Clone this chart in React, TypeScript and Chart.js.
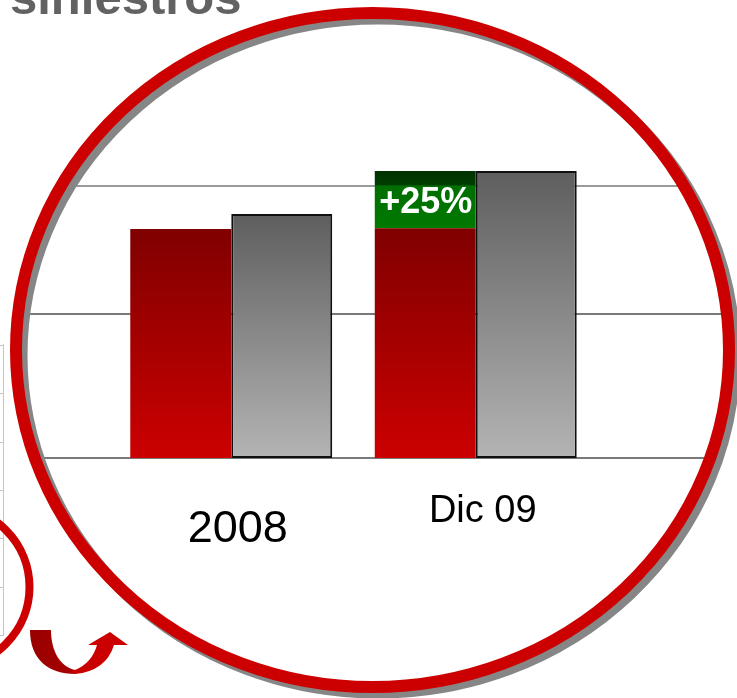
import React, { useEffect, useRef } from 'react';
import { Chart, registerables } from 'chart.js';

Chart.register(...registerables);

const categories = ['2008', 'Dic 09'];
const redValues = [1590, 1595];
const increaseValues = [0, 398];
const grayValues = [1694, 1993];
const gridValues = [0, 1000, 1890];
const increaseLabel = '+25%';
const titleText = 'siniestros';

const W = 737;
const H = 698;
const FONT = '"Liberation Sans", Arial, Helvetica, sans-serif';

// ring geometry
const CX = 372.5;
const CY = 350;
const RX = 356.5;
const RY = 337;

function barGradient(c: any, kind: 'red' | 'green' | 'gray') {
  const chart = c.chart;
  const fallback = kind === 'red' ? '#a00000' : kind === 'green' ? '#007000' : '#888888';
  if (!chart.chartArea || !chart.scales || !chart.scales.y) return fallback;
  const ys = chart.scales.y;
  const i = c.dataIndex;
  if (i === undefined) return fallback;
  let lo = 0;
  let hi = 0;
  if (kind === 'red') { lo = 0; hi = redValues[i]; }
  if (kind === 'green') { lo = redValues[i]; hi = redValues[i] + increaseValues[i]; }
  if (kind === 'gray') { lo = 0; hi = grayValues[i]; }
  const top = ys.getPixelForValue(hi);
  const bottom = ys.getPixelForValue(lo);
  if (!isFinite(top) || !isFinite(bottom) || bottom - top < 1) return fallback;
  const g = chart.ctx.createLinearGradient(0, top, 0, bottom);
  if (kind === 'red') {
    g.addColorStop(0, '#800000');
    g.addColorStop(1, '#cc0000');
  } else if (kind === 'green') {
    g.addColorStop(0, '#003300');
    g.addColorStop(0.24, '#003d00');
    g.addColorStop(0.26, '#006e00');
    g.addColorStop(1, '#007a00');
  } else {
    g.addColorStop(0, '#5e5e5e');
    g.addColorStop(1, '#b4b4b4');
  }
  return g;
}

const decorPlugin = {
  id: 'decor',
  beforeDatasetsDraw(chart: any) {
    const ctx = chart.ctx;
    const ys = chart.scales.y;
    ctx.save();
    // background table edge at the far left
    ctx.strokeStyle = '#c4c4c4';
    ctx.lineWidth = 1;
    ctx.beginPath();
    ctx.moveTo(3.5, 344);
    ctx.lineTo(3.5, 636);
    [345, 393, 442, 490, 538, 587, 635].forEach((y) => {
      ctx.moveTo(0, y + 0.5);
      ctx.lineTo(3.5, y + 0.5);
    });
    ctx.stroke();

    // grid lines clipped by the ring
    ctx.beginPath();
    ctx.ellipse(CX, CY, RX, RY, 0, 0, Math.PI * 2);
    ctx.clip();
    gridValues.forEach((v, k) => {
      const y = Math.round(ys.getPixelForValue(v));
      ctx.strokeStyle = k === gridValues.length - 1 ? '#9a9a9a' : '#7a7a7a';
      ctx.lineWidth = 2;
      ctx.beginPath();
      ctx.moveTo(0, y);
      ctx.lineTo(W, y);
      ctx.stroke();
    });
    ctx.restore();
  },
  afterDatasetsDraw(chart: any) {
    const ctx = chart.ctx;
    const xs = chart.scales.x;
    const ys = chart.scales.y;
    ctx.save();

    // increase label
    const gi = 1;
    const gTop = ys.getPixelForValue(redValues[gi] + increaseValues[gi]);
    const gBot = ys.getPixelForValue(redValues[gi]);
    const redMeta = chart.getDatasetMeta(0);
    const gx = redMeta.data[gi] ? redMeta.data[gi].x : xs.getPixelForValue(gi);
    ctx.fillStyle = '#ffffff';
    ctx.font = `bold 36px ${FONT}`;
    ctx.textAlign = 'center';
    ctx.textBaseline = 'alphabetic';
    ctx.fillText(increaseLabel, gx + 0.5, (gTop + gBot) / 2 + 13.5);

    // category labels
    ctx.fillStyle = '#000000';
    ctx.font = `45px ${FONT}`;
    ctx.fillText(categories[0], xs.getPixelForValue(0) + 6.5, 542);
    ctx.font = `38px ${FONT}`;
    ctx.fillText(categories[1], xs.getPixelForValue(1) + 7, 522);

    // ring with shadow
    ctx.lineWidth = 12;
    ctx.strokeStyle = '#868686';
    ctx.beginPath();
    ctx.ellipse(CX + 5.5, CY + 5.5, RX, RY, 0, 0, Math.PI * 2);
    ctx.stroke();
    ctx.strokeStyle = '#cc0000';
    ctx.beginPath();
    ctx.ellipse(CX, CY, RX, RY, 0, 0, Math.PI * 2);
    ctx.stroke();

    // small ring at left
    ctx.lineWidth = 8;
    ctx.strokeStyle = '#cc0000';
    ctx.beginPath();
    ctx.arc(-51, 587, 80.5, 0, Math.PI * 2);
    ctx.stroke();

    // curved arrow
    const ag = ctx.createLinearGradient(30, 0, 110, 0);
    ag.addColorStop(0, '#980000');
    ag.addColorStop(0.5, '#a80000');
    ag.addColorStop(0.56, '#c80000');
    ag.addColorStop(1, '#cc0000');
    ctx.fillStyle = ag;
    ctx.beginPath();
    ctx.moveTo(30, 630);
    ctx.lineTo(51, 630);
    ctx.bezierCurveTo(51, 652, 61, 667, 75, 670);
    ctx.quadraticCurveTo(92, 663, 97, 645);
    ctx.lineTo(88, 645);
    ctx.lineTo(110, 632);
    ctx.lineTo(128, 645);
    ctx.lineTo(114, 645);
    ctx.quadraticCurveTo(106, 671, 75, 674);
    ctx.bezierCurveTo(49, 674, 30, 660, 30, 630);
    ctx.closePath();
    ctx.fill();

    // title (cropped at the top)
    ctx.fillStyle = '#626262';
    ctx.font = `bold 49px ${FONT}`;
    ctx.textAlign = 'left';
    ctx.textBaseline = 'alphabetic';
    ctx.fillText(titleText, 10, 14);

    ctx.restore();
  },
};

export default function App() {
  const ref = useRef<HTMLCanvasElement | null>(null);
  useEffect(() => {
    if (!ref.current) return;
    const chart = new Chart(ref.current, {
      type: 'bar',
      data: {
        labels: categories,
        datasets: [
          {
            label: 'Siniestros',
            data: redValues,
            stack: 'a',
            backgroundColor: (c: any) => barGradient(c, 'red'),
            borderWidth: 0,
          },
          {
            label: 'Incremento',
            data: increaseValues,
            stack: 'a',
            backgroundColor: (c: any) => barGradient(c, 'green'),
            borderWidth: 0,
          },
          {
            label: 'Referencia',
            data: grayValues,
            stack: 'b',
            backgroundColor: (c: any) => barGradient(c, 'gray'),
            borderColor: '#101010',
            borderWidth: 2,
            borderSkipped: false,
          },
        ],
      },
      options: {
        responsive: false,
        animation: false,
        datasets: {
          bar: { categoryPercentage: 0.826, barPercentage: 1.0 },
        },
        layout: { padding: { left: 109, right: 139, top: 98, bottom: 240 } },
        plugins: {
          legend: { display: false },
          tooltip: { enabled: false },
          title: { display: false },
        },
        scales: {
          x: { display: false, stacked: true },
          y: { display: false, stacked: true, min: 0, max: 2500 },
        },
      },
      plugins: [decorPlugin],
    });
    return () => chart.destroy();
  }, []);
  return (
    <div style={{ position: 'absolute', left: 0, top: 0, width: W, height: H, background: '#ffffff' }}>
      <canvas ref={ref} width={W} height={H} style={{ display: 'block' }} />
    </div>
  );
}
